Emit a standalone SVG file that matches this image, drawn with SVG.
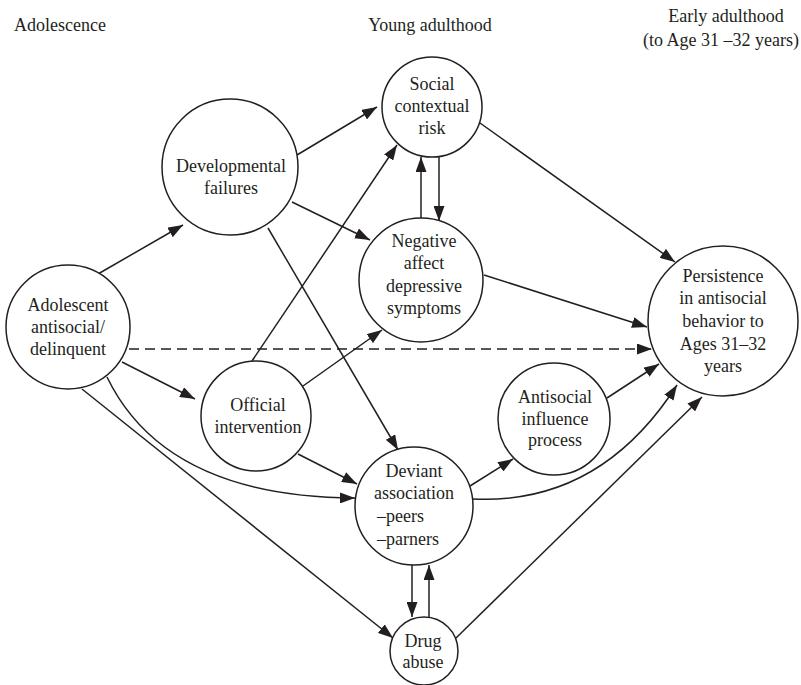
<svg xmlns="http://www.w3.org/2000/svg" width="801" height="685" viewBox="0 0 801 685">
<defs>
<marker id="arr" markerUnits="userSpaceOnUse" markerWidth="15" markerHeight="11" refX="15" refY="5.5" orient="auto">
<path d="M0,0 L15,5.5 L0,11 z" fill="#231f20"/>
</marker>
<style>
text{font-family:'Liberation Serif','Times New Roman','DejaVu Serif',serif;font-size:18px;fill:#231f20;text-anchor:middle}
.node circle{fill:#fff;stroke:#231f20;stroke-width:1.5}
.edges path,.edges line{fill:none;stroke:#231f20;stroke-width:1.5;marker-end:url(#arr)}
.dash{stroke-dasharray:10,6}
</style>
</defs>
<rect width="801" height="685" fill="#fff"/>
<g id="headers" font-family="Liberation Serif, serif">
<text x="60" y="31">Adolescence</text>
<text x="430" y="31">Young adulthood</text>
<text x="726" y="22">Early adulthood</text>
<text x="799" y="46" style="text-anchor:end">(to Age 31 –32 years)</text>
</g>
<g class="edges" id="connectors">
<line x1="98" y1="274" x2="183" y2="225"/>
<line x1="297" y1="155" x2="377" y2="107"/>
<line x1="292" y1="202" x2="370" y2="240"/>
<line x1="268" y1="228" x2="398" y2="450"/>
<line x1="252" y1="361" x2="397" y2="145"/>
<line x1="303" y1="386" x2="382" y2="330"/>
<line x1="480" y1="123" x2="675" y2="262"/>
<line x1="484" y1="275" x2="647" y2="327"/>
<line class="dash" x1="129" y1="349" x2="652" y2="349"/>
<line x1="607" y1="398" x2="659" y2="364"/>
<path d="M473,499 Q600,505 677,385"/>
<line x1="456" y1="638" x2="702" y2="397"/>
<line x1="470" y1="486" x2="513" y2="459"/>
<line x1="122" y1="362" x2="195" y2="399"/>
<line x1="298" y1="454" x2="357" y2="484"/>
<path d="M107,377 Q165,497 355,498"/>
<line x1="82" y1="389" x2="393" y2="638"/>
<line x1="412" y1="565" x2="412" y2="617"/>
<line x1="429" y1="617" x2="429" y2="565"/>
<line x1="421" y1="219" x2="421" y2="157"/>
<line x1="439" y1="157" x2="439" y2="221"/>
</g>
<g class="node" id="social">
<circle cx="432" cy="107" r="50"/>
<text x="432" y="90">Social</text>
<text x="432" y="112">contextual</text>
<text x="432" y="134">risk</text>
</g>
<g class="node" id="developmental">
<circle cx="230" cy="167" r="68"/>
<text x="231" y="172">Developmental</text>
<text x="231" y="194">failures</text>
</g>
<g class="node" id="negative">
<circle cx="421" cy="280" r="62"/>
<text x="424" y="247">Negative</text>
<text x="424" y="269">affect</text>
<text x="424" y="292">depressive</text>
<text x="424" y="314">symptoms</text>
</g>
<g class="node" id="adolescent">
<circle cx="68" cy="327" r="62"/>
<text x="68" y="311">Adolescent</text>
<text x="68" y="333">antisocial/</text>
<text x="68" y="355">delinquent</text>
</g>
<g class="node" id="official">
<circle cx="256" cy="416" r="55"/>
<text x="258" y="411">Official</text>
<text x="258" y="433">intervention</text>
</g>
<g class="node" id="persistence">
<circle cx="723" cy="321" r="75"/>
<text x="723" y="282">Persistence</text>
<text x="723" y="304">in antisocial</text>
<text x="723" y="327">behavior to</text>
<text x="723" y="350">Ages 31–32</text>
<text x="723" y="372">years</text>
</g>
<g class="node" id="antisocial">
<circle cx="554" cy="419" r="56"/>
<text x="555" y="403">Antisocial</text>
<text x="555" y="425">influence</text>
<text x="555" y="446">process</text>
</g>
<g class="node" id="deviant">
<circle cx="414" cy="506" r="59"/>
<text x="414" y="477">Deviant</text>
<text x="414" y="499">association</text>
<text x="377" y="522" style="text-anchor:start">–peers</text>
<text x="377" y="545" style="text-anchor:start">–parners</text>
</g>
<g class="node" id="drug">
<circle cx="424" cy="651" r="34"/>
<text x="423" y="647">Drug</text>
<text x="423" y="668">abuse</text>
</g>
</svg>
